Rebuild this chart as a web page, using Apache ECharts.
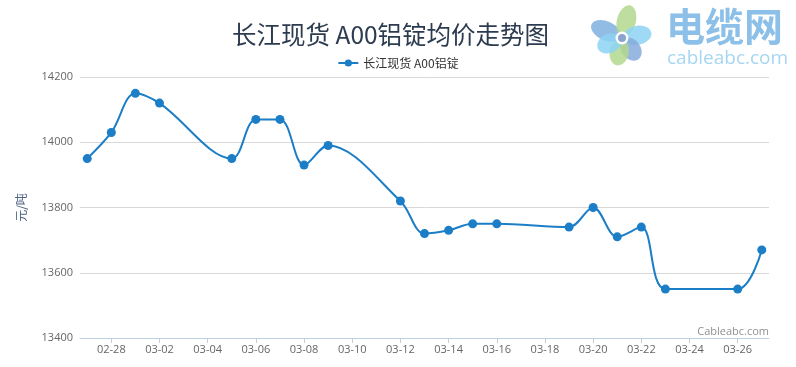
<!DOCTYPE html>
<html><head><meta charset="utf-8">
<script src="https://cdn.jsdelivr.net/npm/echarts@6/dist/echarts.min.js"></script>
<style>html,body{margin:0;padding:0;background:#fff}#c{width:796px;height:367px}</style>
</head><body><div id="c"></div>
<script>
var title = '长江现货 A00铝锭均价走势图';
var seriesName = '长江现货 A00铝锭';
var yName = '元/吨';
var year = 2018;
var dates = ['02-27','02-28','03-01','03-02','03-05','03-06','03-07','03-08','03-09','03-12','03-13','03-14','03-15','03-16','03-19','03-20','03-21','03-22','03-23','03-26','03-27'];
var prices = [13950,14030,14150,14120,13950,14070,14070,13930,13990,13820,13720,13730,13750,13750,13740,13800,13710,13740,13550,13550,13670];
var tickLabels = ['02-28','03-02','03-04','03-06','03-08','03-10','03-12','03-14','03-16','03-18','03-20','03-22','03-24','03-26'];

function dayIndex(s){
  var p = s.split('-');
  return (Date.UTC(year, +p[0]-1, +p[1]) - Date.UTC(year, 1, 27)) / 86400000;
}
var data = dates.map(function(d,i){ return [dayIndex(d), prices[i]]; });
var tickVals = tickLabels.map(dayIndex);
var labelMap = {};
tickLabels.forEach(function(t){ labelMap[dayIndex(t)] = t; });

// logo petals (decoration)
var petalDefs = [[-29,-13,'#7fb0df'],[8,-31,'#b3d88e'],[28,-5,'#8dd4f4'],[16,20,'#86abdc'],[-5,26,'#b3d88e'],[-23,10,'#8dd4f4']];
var cx = 622, cy = 38;
var petals = petalDefs.map(function(p){
  var len = Math.sqrt(p[0]*p[0]+p[1]*p[1]);
  var ux = p[0]/len, uy = p[1]/len;
  return { type: 'group', x: cx + ux*len*0.55, y: cy + uy*len*0.55,
    rotation: -Math.atan2(uy, ux),
    children: [{ type: 'ellipse', shape: { cx: 0, cy: 0, rx: len*0.5, ry: 9.5 },
      style: { fill: p[2], opacity: 0.85 } }] };
});
petals.push({ type: 'circle', shape: { cx: cx, cy: cy, r: 6.5 }, style: { fill: '#fff' } });
petals.push({ type: 'circle', shape: { cx: cx, cy: cy, r: 4 }, style: { fill: '#8ba3d0' } });

var chart = echarts.init(document.getElementById('c'));
chart.setOption({
  animation: false,
  title: { text: title, left: 227, top: 17,
    textStyle: { fontSize: 24.5, fontWeight: 'normal', color: '#2c3b50', fontFamily: 'Noto Sans CJK SC' } },
  legend: { top: 52, left: 'center', itemWidth: 20, itemHeight: 9, itemGap: 5,
    textStyle: { fontSize: 12, color: '#333', fontFamily: 'Noto Sans CJK SC' },
    data: [seriesName] },
  grid: { left: 80, right: 27, top: 77, bottom: 29 },
  xAxis: {
    type: 'value', min: -0.3, max: 28.3,
    splitLine: { show: false },
    axisLine: { lineStyle: { color: '#c0d0e0', width: 1 } },
    axisTick: { show: true, customValues: tickVals, length: 5, lineStyle: { color: '#c0d0e0' } },
    axisLabel: { customValues: tickVals, color: '#666', fontSize: 11, margin: 6,
      fontFamily: 'Open Sans', formatter: function(v){ return labelMap[Math.round(v)] || ''; } }
  },
  yAxis: {
    type: 'value', min: 13400, max: 14200, interval: 200,
    name: yName, nameLocation: 'middle', nameGap: 53, nameRotate: 90,
    nameTextStyle: { color: '#4d6282', fontSize: 12, fontFamily: 'Noto Sans CJK SC' },
    axisLine: { show: false }, axisTick: { show: false },
    axisLabel: { color: '#666', fontSize: 11, margin: 7, fontFamily: 'Open Sans',
      formatter: function(v){ return String(v); } },
    splitLine: { lineStyle: { color: '#d8d8d8', width: 1 } }
  },
  series: [{
    name: seriesName, type: 'line', data: data, smooth: 0.35,
    symbol: 'circle', symbolSize: 9,
    lineStyle: { color: '#1b7ec6', width: 2 },
    itemStyle: { color: '#1b7ec6' }
  }],
  graphic: [
    { type: 'text', right: 27, top: 326, style: { text: 'Cableabc.com', fill: '#909090', fontSize: 11, fontFamily: 'Open Sans' } },
    { type: 'group', children: petals },
    { type: 'text', left: 666, top: 7, style: { text: '电缆网', fill: '#8cc0e8', fontSize: 39, fontWeight: 'bold', fontFamily: 'Noto Sans CJK SC' } },
    { type: 'text', left: 667, top: 49, style: { text: 'cableabc.com', fill: '#a6d6f2', fontSize: 19, fontFamily: 'Open Sans' } }
  ]
});
</script></body></html>
